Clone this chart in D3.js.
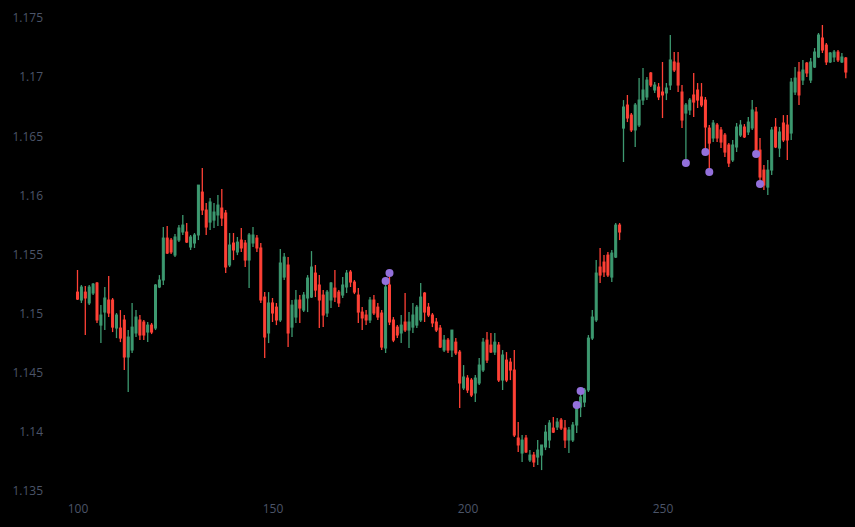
<!DOCTYPE html>
<html>
<head>
<meta charset="utf-8">
<script src="https://cdn.jsdelivr.net/npm/d3@7"></script>
<style>
  html, body { margin: 0; padding: 0; background: #000; }
  #chart { width: 855px; height: 527px; }
  .tick text { font-family: "Open Sans", sans-serif; font-size: 12px; fill: #4b5468; }
</style>
</head>
<body>
<div id="chart"></div>
<script>
// first candle sits at x = 100, one candle per unit
const firstX = 100;

// [open, high, low, close]
const ohlc = [
  [1.15182, 1.15369, 1.15115, 1.15123],
  [1.15115, 1.15242, 1.15090, 1.15225],
  [1.15182, 1.15233, 1.14819, 1.15132],
  [1.15090, 1.15242, 1.15072, 1.15225],
  [1.15174, 1.15259, 1.15157, 1.15250],
  [1.15259, 1.15267, 1.14921, 1.14946],
  [1.14903, 1.15072, 1.14751, 1.14988],
  [1.15013, 1.15225, 1.14861, 1.15132],
  [1.15115, 1.15318, 1.14971, 1.15005],
  [1.15115, 1.15132, 1.14844, 1.14886],
  [1.14878, 1.15005, 1.14793, 1.14988],
  [1.14878, 1.15030, 1.14759, 1.14793],
  [1.14946, 1.14988, 1.14523, 1.14633],
  [1.14633, 1.14861, 1.14337, 1.14802],
  [1.14692, 1.15090, 1.14667, 1.14886],
  [1.14836, 1.15030, 1.14802, 1.14971],
  [1.14946, 1.14988, 1.14776, 1.14819],
  [1.14929, 1.14946, 1.14776, 1.14819],
  [1.14844, 1.14929, 1.14759, 1.14903],
  [1.14903, 1.14921, 1.14827, 1.14844],
  [1.14878, 1.15250, 1.14861, 1.15242],
  [1.15225, 1.15326, 1.15216, 1.15284],
  [1.15284, 1.15732, 1.15242, 1.15639],
  [1.15639, 1.15741, 1.15504, 1.15512],
  [1.15622, 1.15639, 1.15504, 1.15521],
  [1.15495, 1.15673, 1.15478, 1.15648],
  [1.15622, 1.15749, 1.15605, 1.15724],
  [1.15690, 1.15834, 1.15665, 1.15749],
  [1.15690, 1.15766, 1.15597, 1.15605],
  [1.15563, 1.15665, 1.15538, 1.15648],
  [1.15597, 1.15682, 1.15555, 1.15665],
  [1.15665, 1.16087, 1.15622, 1.16087],
  [1.16028, 1.16231, 1.15834, 1.15876],
  [1.15876, 1.15935, 1.15665, 1.15732],
  [1.15774, 1.15978, 1.15707, 1.15944],
  [1.15791, 1.15935, 1.15724, 1.15859],
  [1.15834, 1.16003, 1.15741, 1.15918],
  [1.15893, 1.16053, 1.15741, 1.15808],
  [1.15851, 1.15876, 1.15343, 1.15394],
  [1.15411, 1.15682, 1.15394, 1.15580],
  [1.15597, 1.15682, 1.15453, 1.15538],
  [1.15521, 1.15648, 1.15495, 1.15605],
  [1.15622, 1.15724, 1.15521, 1.15555],
  [1.15597, 1.15622, 1.15394, 1.15453],
  [1.15453, 1.15682, 1.15216, 1.15665],
  [1.15597, 1.15732, 1.15563, 1.15665],
  [1.15639, 1.15665, 1.15521, 1.15555],
  [1.15555, 1.15597, 1.15090, 1.15115],
  [1.15140, 1.15182, 1.14624, 1.14802],
  [1.14836, 1.15182, 1.14751, 1.15090],
  [1.15090, 1.15132, 1.14929, 1.15005],
  [1.15055, 1.15090, 1.14903, 1.14946],
  [1.14946, 1.15546, 1.14929, 1.15428],
  [1.15309, 1.15512, 1.15284, 1.15478],
  [1.15411, 1.15478, 1.14717, 1.14836],
  [1.14886, 1.15115, 1.14802, 1.15072],
  [1.14971, 1.15199, 1.14921, 1.15115],
  [1.15115, 1.15157, 1.14921, 1.15047],
  [1.15030, 1.15182, 1.15013, 1.15157],
  [1.15132, 1.15326, 1.15013, 1.15301],
  [1.15140, 1.15529, 1.15132, 1.15394],
  [1.15343, 1.15411, 1.15140, 1.15199],
  [1.15242, 1.15326, 1.14878, 1.15115],
  [1.15157, 1.15199, 1.14886, 1.14988],
  [1.15005, 1.15199, 1.14971, 1.15182],
  [1.15115, 1.15267, 1.15047, 1.15259],
  [1.15216, 1.15369, 1.15098, 1.15140],
  [1.15182, 1.15199, 1.15055, 1.15090],
  [1.15157, 1.15309, 1.15132, 1.15242],
  [1.15225, 1.15369, 1.15174, 1.15343],
  [1.15352, 1.15369, 1.15225, 1.15267],
  [1.15267, 1.15284, 1.15165, 1.15182],
  [1.15157, 1.15216, 1.14921, 1.15013],
  [1.15013, 1.15055, 1.14861, 1.14963],
  [1.14988, 1.15030, 1.14903, 1.14946],
  [1.14946, 1.15140, 1.14921, 1.15115],
  [1.15115, 1.15157, 1.14988, 1.15005],
  [1.15055, 1.15090, 1.14946, 1.14971],
  [1.15005, 1.15030, 1.14692, 1.14717],
  [1.14709, 1.15276, 1.14667, 1.15225],
  [1.15242, 1.15344, 1.14903, 1.14929],
  [1.14946, 1.14971, 1.14759, 1.14776],
  [1.14886, 1.14903, 1.14793, 1.14819],
  [1.14836, 1.14988, 1.14751, 1.14903],
  [1.14929, 1.15174, 1.14844, 1.14861],
  [1.14861, 1.15013, 1.14709, 1.14929],
  [1.14886, 1.15090, 1.14836, 1.14988],
  [1.14903, 1.15072, 1.14878, 1.15055],
  [1.14946, 1.15259, 1.14929, 1.15140],
  [1.15174, 1.15182, 1.14929, 1.15013],
  [1.15055, 1.15090, 1.14971, 1.14988],
  [1.14988, 1.15005, 1.14886, 1.14921],
  [1.14929, 1.14963, 1.14844, 1.14861],
  [1.14878, 1.14903, 1.14709, 1.14717],
  [1.14692, 1.14819, 1.14675, 1.14776],
  [1.14776, 1.14793, 1.14667, 1.14692],
  [1.14692, 1.14861, 1.14633, 1.14861],
  [1.14759, 1.14793, 1.14650, 1.14667],
  [1.14675, 1.14692, 1.14202, 1.14413],
  [1.14371, 1.14565, 1.14354, 1.14464],
  [1.14455, 1.14480, 1.14329, 1.14354],
  [1.14438, 1.14455, 1.14295, 1.14311],
  [1.14329, 1.14480, 1.14252, 1.14455],
  [1.14413, 1.14624, 1.14396, 1.14565],
  [1.14523, 1.14793, 1.14506, 1.14759],
  [1.14776, 1.14844, 1.14582, 1.14607],
  [1.14734, 1.14836, 1.14667, 1.14675],
  [1.14675, 1.14836, 1.14650, 1.14759],
  [1.14734, 1.14759, 1.14421, 1.14438],
  [1.14438, 1.14692, 1.14354, 1.14650],
  [1.14607, 1.14675, 1.14421, 1.14438],
  [1.14590, 1.14624, 1.14438, 1.14523],
  [1.14523, 1.14692, 1.13956, 1.13973],
  [1.13948, 1.14083, 1.13830, 1.13889],
  [1.13821, 1.13973, 1.13745, 1.13931],
  [1.13948, 1.13973, 1.13821, 1.13830],
  [1.13762, 1.13846, 1.13745, 1.13804],
  [1.13804, 1.13830, 1.13702, 1.13745],
  [1.13787, 1.13931, 1.13719, 1.13846],
  [1.13804, 1.13889, 1.13677, 1.13889],
  [1.13872, 1.14058, 1.13846, 1.13998],
  [1.13931, 1.14100, 1.13863, 1.14075],
  [1.14032, 1.14125, 1.13990, 1.13998],
  [1.14041, 1.14117, 1.14015, 1.14083],
  [1.14100, 1.14117, 1.14015, 1.14032],
  [1.14032, 1.14100, 1.13863, 1.13931],
  [1.13931, 1.14041, 1.13821, 1.14015],
  [1.13931, 1.14083, 1.13914, 1.14058],
  [1.14058, 1.14227, 1.13990, 1.14210],
  [1.14210, 1.14346, 1.14125, 1.14295],
  [1.14252, 1.14371, 1.14210, 1.14354],
  [1.14354, 1.14819, 1.14337, 1.14793],
  [1.14793, 1.15030, 1.14776, 1.14971],
  [1.14946, 1.15453, 1.14929, 1.15343],
  [1.15394, 1.15555, 1.15259, 1.15326],
  [1.15436, 1.15495, 1.15309, 1.15352],
  [1.15495, 1.15521, 1.15309, 1.15326],
  [1.15309, 1.15538, 1.15267, 1.15512],
  [1.15478, 1.15766, 1.15470, 1.15749],
  [1.15749, 1.15766, 1.15622, 1.15690],
  [1.16569, 1.16806, 1.16282, 1.16747],
  [1.16764, 1.16849, 1.16620, 1.16654],
  [1.16679, 1.16696, 1.16536, 1.16553],
  [1.16553, 1.16781, 1.16409, 1.16764],
  [1.16595, 1.16992, 1.16578, 1.16806],
  [1.16806, 1.17077, 1.16764, 1.16891],
  [1.16832, 1.17001, 1.16806, 1.16975],
  [1.17035, 1.17043, 1.16916, 1.16933],
  [1.16891, 1.16958, 1.16866, 1.16933],
  [1.16916, 1.16950, 1.16806, 1.16832],
  [1.16874, 1.17128, 1.16654, 1.16849],
  [1.16866, 1.16950, 1.16806, 1.16908],
  [1.16933, 1.17356, 1.16891, 1.17145],
  [1.17128, 1.17212, 1.17043, 1.17060],
  [1.17119, 1.17212, 1.16874, 1.16933],
  [1.16874, 1.16933, 1.16569, 1.16637],
  [1.16696, 1.16781, 1.16274, 1.16764],
  [1.16722, 1.16823, 1.16679, 1.16806],
  [1.16849, 1.17035, 1.16662, 1.16789],
  [1.16891, 1.16950, 1.16739, 1.16806],
  [1.16832, 1.16950, 1.16747, 1.16764],
  [1.16806, 1.16832, 1.16367, 1.16578],
  [1.16569, 1.16595, 1.16198, 1.16442],
  [1.16485, 1.16637, 1.16451, 1.16612],
  [1.16595, 1.16612, 1.16451, 1.16485],
  [1.16553, 1.16578, 1.16400, 1.16451],
  [1.16510, 1.16527, 1.16324, 1.16366],
  [1.16426, 1.16443, 1.16240, 1.16273],
  [1.16299, 1.16468, 1.16282, 1.16426],
  [1.16409, 1.16612, 1.16367, 1.16578],
  [1.16510, 1.16637, 1.16494, 1.16595],
  [1.16578, 1.16603, 1.16485, 1.16494],
  [1.16536, 1.16662, 1.16510, 1.16620],
  [1.16570, 1.16806, 1.16553, 1.16722],
  [1.16705, 1.16747, 1.16350, 1.16383],
  [1.16383, 1.16485, 1.16096, 1.16155],
  [1.16214, 1.16256, 1.16045, 1.16087],
  [1.16070, 1.16299, 1.16003, 1.16214],
  [1.16214, 1.16578, 1.16172, 1.16553],
  [1.16578, 1.16654, 1.16400, 1.16409],
  [1.16400, 1.16578, 1.16324, 1.16536],
  [1.16612, 1.16679, 1.16451, 1.16468],
  [1.16595, 1.16679, 1.16299, 1.16468],
  [1.16527, 1.16992, 1.16468, 1.16958],
  [1.16874, 1.17085, 1.16849, 1.16992],
  [1.17043, 1.17128, 1.16764, 1.16849],
  [1.16975, 1.17145, 1.16933, 1.17060],
  [1.17119, 1.17128, 1.17001, 1.17035],
  [1.16975, 1.17162, 1.16950, 1.17128],
  [1.17085, 1.17246, 1.17077, 1.17212],
  [1.17170, 1.17373, 1.17162, 1.17356],
  [1.17331, 1.17441, 1.17204, 1.17229],
  [1.17271, 1.17288, 1.17102, 1.17128],
  [1.17128, 1.17212, 1.17119, 1.17204],
  [1.17170, 1.17229, 1.17128, 1.17212],
  [1.17212, 1.17229, 1.17128, 1.17145],
  [1.17128, 1.17204, 1.17119, 1.17170],
  [1.17162, 1.17170, 1.16990, 1.17043]
];

// purple signal markers
const markerX = [179, 180, 228, 229, 256, 261, 262, 274, 275];
const markerY = [1.15276, 1.15344, 1.14227, 1.14346, 1.16274, 1.16367, 1.16198, 1.1635, 1.16096];

const xTicks = [100, 150, 200, 250];
const yTicks = [1.135, 1.14, 1.145, 1.15, 1.155, 1.16, 1.165, 1.17, 1.175];

const upColor = '#3D9970';
const downColor = '#FF4136';
const markerColor = '#9370DB';

const width = 855;
const height = 527;
const plot = { left: 48, right: 855, top: 0, bottom: 496 };

const svg = d3.select('#chart').append('svg')
  .attr('width', width)
  .attr('height', height)
  .style('display', 'block')
  .style('background', '#000');

// 3.9 px per unit, x=100 at 77.5
const x = d3.scaleLinear()
  .domain([100 - (77.5 - plot.left) / 3.9, 100 + (plot.right - 77.5) / 3.9])
  .range([plot.left, plot.right]);

// 1.175 at y=18, 1.135 at y=491
const y = d3.scaleLinear()
  .domain([1.135, 1.175])
  .range([491, 18]);

// Axes (labels only, no lines)
const fmt = d3.format('.4~f');

svg.append('g')
  .attr('transform', `translate(${plot.left - 3},0)`)
  .call(d3.axisLeft(y).tickValues(yTicks).tickSize(0).tickPadding(2).tickFormat(fmt))
  .call(g => g.select('.domain').remove());

svg.append('g')
  .attr('transform', `translate(0,${plot.bottom})`)
  .call(d3.axisBottom(x).tickValues(xTicks).tickSize(0).tickPadding(8))
  .call(g => g.select('.domain').remove());

const candles = ohlc.map((d, i) => ({
  x: firstX + i, open: d[0], high: d[1], low: d[2], close: d[3]
}));

const colorOf = d => (d.close >= d.open ? upColor : downColor);

const candleG = svg.append('g').attr('class', 'candles');

// wicks
candleG.selectAll('line.wick')
  .data(candles)
  .enter()
  .append('line')
  .attr('class', 'wick')
  .attr('x1', d => x(d.x))
  .attr('x2', d => x(d.x))
  .attr('y1', d => y(d.high))
  .attr('y2', d => y(d.low))
  .attr('stroke', colorOf)
  .attr('stroke-width', 1.3);

// bodies
const bodyW = 2;
candleG.selectAll('rect.body')
  .data(candles)
  .enter()
  .append('rect')
  .attr('class', 'body')
  .attr('x', d => x(d.x) - bodyW / 2)
  .attr('y', d => y(Math.max(d.open, d.close)))
  .attr('width', bodyW)
  .attr('height', d => Math.max(0.5, y(Math.min(d.open, d.close)) - y(Math.max(d.open, d.close))))
  .attr('fill', colorOf)
  .attr('stroke', colorOf)
  .attr('stroke-width', 1);

// markers
svg.append('g').attr('class', 'markers')
  .selectAll('circle')
  .data(markerX.map((mx, i) => ({ x: mx, y: markerY[i] })))
  .enter()
  .append('circle')
  .attr('cx', d => x(d.x))
  .attr('cy', d => y(d.y))
  .attr('r', 4)
  .attr('fill', markerColor);
</script>
</body>
</html>
